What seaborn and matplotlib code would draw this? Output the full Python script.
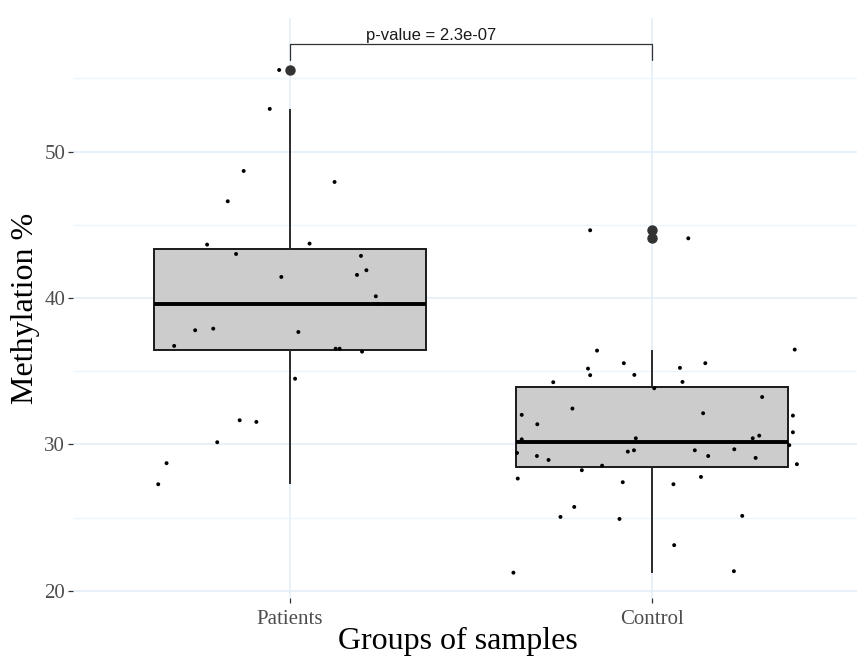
import numpy as np
import pandas as pd
import matplotlib
matplotlib.use("Agg")
import matplotlib.pyplot as plt
import seaborn as sns
from matplotlib.ticker import MultipleLocator

# ---------------- data ----------------
groups = ["Patients", "Control"]

patients_values = [55.58, 52.92, 48.68, 47.93, 46.61, 43.65, 43.72, 43.01, 42.88,
                   41.90, 41.58, 41.44, 40.12, 39.60, 37.80, 37.91, 37.68, 36.73,
                   36.54, 36.54, 36.34, 34.49, 31.65, 31.54, 30.15, 28.72, 27.28]
patients_jitter = [-0.030, -0.056, -0.128, 0.123, -0.172, -0.229, 0.054, -0.149, 0.196,
                   0.211, 0.185, -0.024, 0.237, 0.242, -0.262, -0.212, 0.023, -0.320,
                   0.126, 0.137, 0.199, 0.014, -0.139, -0.093, -0.201, -0.341, -0.364]

control_values = [44.63, 44.08, 36.41, 36.48, 35.55, 35.55, 35.18, 35.23, 34.73, 34.75,
                  34.25, 34.27, 33.84, 33.24, 32.45, 32.02, 32.13, 31.97, 31.38, 30.83,
                  30.35, 30.42, 30.42, 30.60, 29.95, 29.42, 29.51, 29.60, 29.60, 29.67,
                  29.21, 29.21, 29.08, 28.94, 28.65, 28.55, 28.24, 27.67, 27.78, 27.42,
                  27.28, 25.73, 25.05, 24.91, 25.12, 23.12, 21.24, 21.34]
control_jitter = [-0.171, 0.100, -0.152, 0.394, -0.078, 0.147, -0.177, 0.077, -0.171, -0.049,
                  -0.273, 0.084, 0.006, 0.304, -0.220, -0.360, 0.141, 0.389, -0.317, 0.389,
                  -0.360, -0.045, 0.278, 0.296, 0.379, -0.373, -0.067, -0.050, 0.118, 0.227,
                  -0.318, 0.155, 0.286, -0.286, 0.400, -0.138, -0.194, -0.371, 0.135, -0.081,
                  0.059, -0.215, -0.253, -0.090, 0.249, 0.061, -0.383, 0.226]

y_ticks = [20, 30, 40, 50]
p_label = "p-value = 2.3e-07"
x_title = "Groups of samples"
y_title = "Methylation %"

# ---------------- tables ----------------
df = pd.DataFrame({
    "group": [groups[0]] * len(patients_values) + [groups[1]] * len(control_values),
    "value": patients_values + control_values,
})
pts = df.copy()
pts["xpos"] = [0 + j for j in patients_jitter] + [1 + j for j in control_jitter]

# ---------------- style ----------------
sns.set_theme(style="white")
plt.rcParams["font.family"] = ["Liberation Serif", "DejaVu Serif"]

W, H = 857, 658
fig = plt.figure(figsize=(W / 100, H / 100), dpi=100)
left_px, right_px, top_px, bottom_px = 73, 857, 18, 598
ax = fig.add_axes([left_px / W, 1 - bottom_px / H, (right_px - left_px) / W, (bottom_px - top_px) / H])

sns.boxplot(data=df, x="group", y="value", order=groups, width=0.75,
            color="#CCCCCC", saturation=1, linecolor="#1a1a1a", linewidth=1.4,
            showcaps=False, fliersize=6.5,
            flierprops=dict(marker="o", markerfacecolor="#333333", markeredgecolor="#333333"),
            medianprops=dict(linewidth=2.8, color="#000000"),
            whiskerprops=dict(color="#2a2a2a", linewidth=1.4),
            ax=ax)

sns.scatterplot(data=pts, x="xpos", y="value", color="black", s=8,
                edgecolor="none", linewidth=0, legend=False, ax=ax, zorder=4)

# significance bracket
ax.plot([0, 0, 1, 1], [56.25, 57.34, 57.34, 56.25], color="#333333", linewidth=0.9, zorder=5)
ax.text(0.39, 57.66, p_label, ha="center", va="baseline", fontsize=12,
        family=["Liberation Sans", "DejaVu Sans"], color="#1a1a1a")

ax.set_xlim(-0.5994, 1.566)
ax.set_ylim(19.51, 59.13)
ax.set_xticks([0, 1])
ax.set_xticklabels(groups)
ax.set_yticks(y_ticks)

# grid (after the categorical plot, which switches the x grid off)
ax.set_axisbelow(True)
ax.yaxis.set_minor_locator(MultipleLocator(5))
ax.grid(True, which="major", axis="both", color="#E2ECF8", linewidth=1.1)
ax.grid(True, which="minor", axis="y", color="#EEF4FB", linewidth=0.9)

ax.tick_params(axis="both", which="major", bottom=True, left=True, length=3.6, width=0.9,
               color="#333333", labelcolor="#4D4D4D", labelsize=15, pad=2)
ax.tick_params(axis="x", which="major", pad=5)
ax.tick_params(which="minor", length=0)
for s in ax.spines.values():
    s.set_visible(False)

ax.set_xlabel(x_title, fontsize=23, color="black")
ax.set_ylabel(y_title, fontsize=23, color="black", labelpad=3)
ax.xaxis.set_label_coords((458 - left_px) / (right_px - left_px), -(649 - bottom_px) / (bottom_px - top_px))
ax.xaxis.label.set_va("baseline")

fig.savefig("out.png", dpi=100)
